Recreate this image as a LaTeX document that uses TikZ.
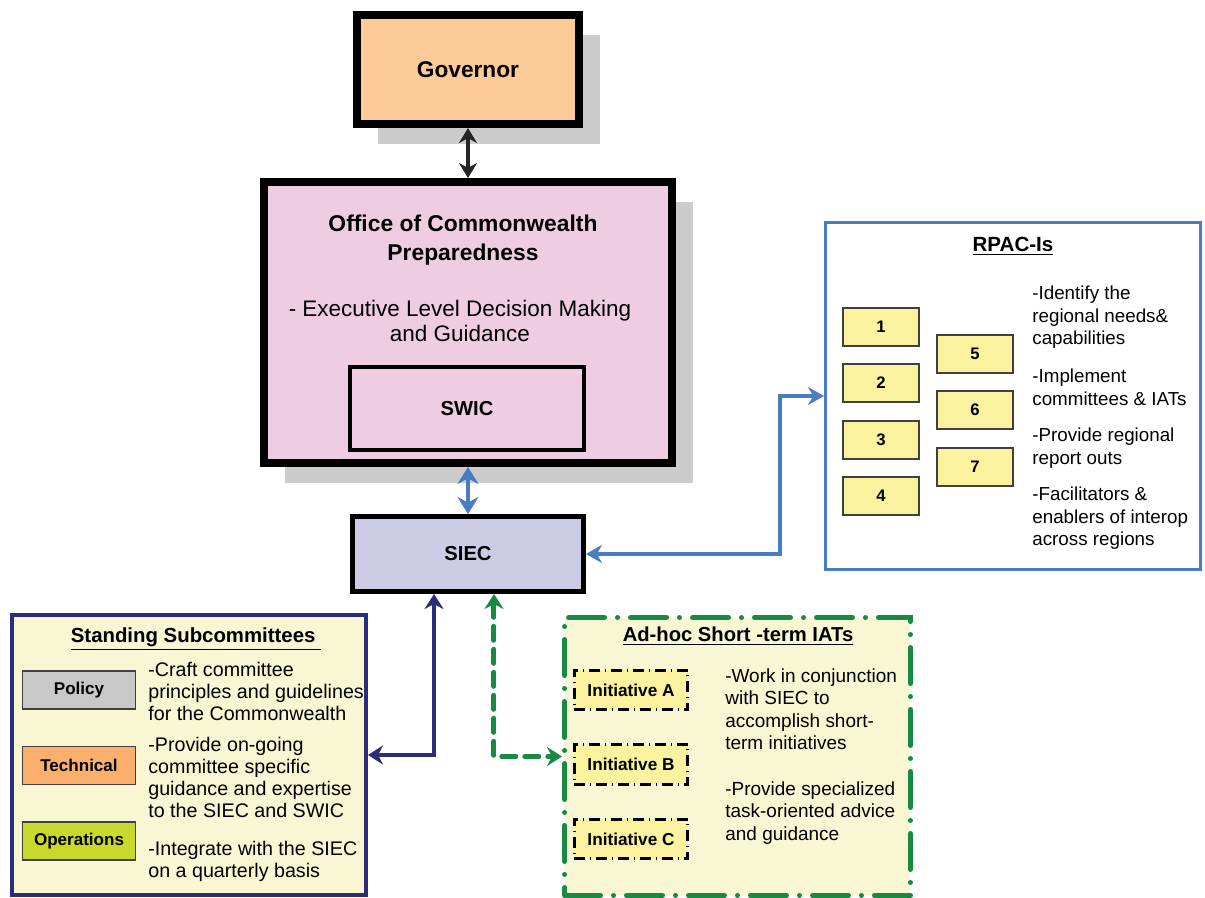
\documentclass[tikz,border=0pt]{standalone}
\usepackage{fontspec}
\setmainfont{Liberation Sans}
\usetikzlibrary{arrows.meta,shadows}

\definecolor{govfill}{HTML}{FCCB98}
\definecolor{ocpfill}{HTML}{EECDE2}
\definecolor{siecfill}{HTML}{CDCCE6}
\definecolor{shadowgray}{HTML}{CCCCCC}
\definecolor{numfill}{HTML}{FAF29E}
\definecolor{panelfill}{HTML}{F8F6D3}
\definecolor{linkblue}{HTML}{4A7CC2}
\definecolor{navy}{HTML}{2B2D7C}
\definecolor{adgreen}{HTML}{188A44}
\definecolor{policyfill}{HTML}{C8C8C8}
\definecolor{techfill}{HTML}{FAAF6D}
\definecolor{opsfill}{HTML}{C9D92B}

\begin{document}
\begin{tikzpicture}[x=0.02cm,y=-0.02cm,
  bigbox/.style={draw,rectangle,inner sep=0pt,line width=0.16cm,
    drop shadow={shadow xshift=0.42cm,shadow yshift=-0.4cm,fill=shadowgray,opacity=1}},
  numbox/.style={draw=black!75,fill=numfill,line width=0.6pt,inner sep=0pt,
    minimum width=1.52cm,minimum height=0.76cm,font=\fontsize{9.5}{11}\selectfont\bfseries},
  subbox/.style={draw=black!75,line width=0.6pt,inner sep=0pt,
    minimum width=2.26cm,minimum height=0.76cm,font=\fontsize{9.7}{11}\selectfont\bfseries},
  initbox/.style={draw=black,fill=numfill,line width=0.06cm,inner sep=0pt,
    dash pattern={on 0.22cm off 0.1cm on 0.02cm off 0.1cm},
    minimum width=2.28cm,minimum height=0.8cm,font=\fontsize{9.8}{11}\selectfont\bfseries},
  headtxt/.style={anchor=base,inner sep=0pt,font=\fontsize{11.6}{14}\selectfont\bfseries},
  bodytxt/.style={anchor=north west,inner sep=0pt,align=left,font=\fontsize{10.8}{12.8}\selectfont},
  tip/.style={-{Stealth[length=#1,width=1.2*#1]}},
]
\useasboundingbox (0,0) rectangle (1205,898);

% top of the chain
\node[bigbox,fill=govfill,minimum width=4.44cm,minimum height=2.18cm,
  font=\fontsize{12.9}{15}\selectfont\bfseries] (gov) at (468,69.5) {Governor};
\node[bigbox,fill=ocpfill,minimum width=8.16cm,minimum height=5.62cm] (ocp) at (468,322.5) {};
\node[anchor=north,inner sep=0pt,align=center,font=\fontsize{13}{16.1}\selectfont\bfseries]
  (ocptitle) at (463,215) {Office of Commonwealth\\Preparedness};
\node[anchor=north,inner sep=0pt,align=center,font=\fontsize{12.8}{14.05}\selectfont]
  (ocpbody) at (460,300) {- Executive Level Decision Making\\and Guidance};
\node[draw,fill=ocpfill,line width=0.08cm,inner sep=0pt,minimum width=4.68cm,minimum height=1.66cm,
  font=\fontsize{11.5}{14}\selectfont\bfseries] (swic) at (467,408.5) {SWIC};
\node[draw,fill=siecfill,line width=0.1cm,inner sep=0pt,minimum width=4.62cm,minimum height=1.5cm,
  font=\fontsize{11.5}{14}\selectfont\bfseries] (siec) at (468,554) {SIEC};

% RPAC-Is
\node[draw=linkblue,fill=white,line width=0.06cm,minimum width=7.5cm,minimum height=6.94cm] (rpac) at (1013,396) {};
\node[headtxt,font=\fontsize{11.7}{14}\selectfont\bfseries] (rpactitle) at (1013,252) {\underline{RPAC-Is}};
\node[numbox] (n1) at (881,327) {1};
\node[numbox] (n2) at (881,383) {2};
\node[numbox] (n3) at (881,440) {3};
\node[numbox] (n4) at (881,496) {4};
\node[numbox] (n5) at (975,354) {5};
\node[numbox] (n6) at (975,410) {6};
\node[numbox] (n7) at (975,467) {7};
\node[bodytxt,font=\fontsize{10.7}{12.8}\selectfont] (r1) at (1032,286) {-Identify the\\regional needs\&\\capabilities};
\node[bodytxt,font=\fontsize{10.7}{12.8}\selectfont] (r2) at (1032,369) {-Implement\\committees \& IATs};
\node[bodytxt,font=\fontsize{10.7}{12.8}\selectfont] (r3) at (1032,428) {-Provide regional\\report outs};
\node[bodytxt,font=\fontsize{10.7}{12.8}\selectfont] (r4) at (1032,487) {-Facilitators \&\\enablers of interop\\across regions};

% Standing Subcommittees
\node[draw=navy,fill=panelfill,line width=0.08cm,minimum width=7.08cm,minimum height=5.6cm] (stand) at (189,755) {};
\node[headtxt] (standtitle) at (196,643) {\underline{Standing Subcommittees\ }};
\node[subbox,fill=policyfill] (policy) at (79,690) {Policy};
\node[subbox,fill=techfill] (tech) at (79,765.5) {Technical};
\node[subbox,fill=opsfill] (ops) at (79,841) {Operations};
\node[bodytxt,font=\fontsize{11.2}{12.5}\selectfont] (s1) at (148,662) {-Craft committee\\principles and guidelines\\for the Commonwealth};
\node[bodytxt,font=\fontsize{11.2}{12.5}\selectfont] (s2) at (148,737) {-Provide on-going\\committee specific\\guidance and expertise\\to the SIEC and SWIC};
\node[bodytxt,font=\fontsize{11.2}{12.5}\selectfont] (s3) at (148,841) {-Integrate with the SIEC\\on a quarterly basis};

% Ad-hoc IATs
\node[draw=adgreen,fill=panelfill,line width=0.1cm,line cap=round,
  dash pattern={on 0.72cm off 0.26cm on 0cm off 0.26cm},
  minimum width=6.92cm,minimum height=5.56cm] (adhoc) at (737.5,756.5) {};
\node[headtxt,font=\fontsize{11.5}{14}\selectfont\bfseries] (adhoctitle) at (738,642) {\underline{Ad-hoc Short -term IATs}};
\node[initbox] (inA) at (631,690) {Initiative A};
\node[initbox] (inB) at (631,764.5) {Initiative B};
\node[initbox] (inC) at (631,839) {Initiative C};
\node[bodytxt] (a1) at (725,668) {-Work in conjunction\\with SIEC to\\accomplish short-\\term initiatives};
\node[bodytxt] (a2) at (725,781) {-Provide specialized\\task-oriented advice\\and guidance};

% links
\draw[black!85,line width=0.09cm,{Stealth[length=0.3cm,width=0.36cm]}-{Stealth[length=0.3cm,width=0.36cm]}] (gov.south) -- (ocp.north);
\draw[linkblue,line width=0.08cm,{Stealth[length=0.34cm,width=0.42cm]}-{Stealth[length=0.34cm,width=0.42cm]}] (ocp.south) -- (siec.north);
\draw[linkblue,line width=0.07cm,{Stealth[length=0.32cm,width=0.36cm]}-{Stealth[length=0.32cm,width=0.36cm]}] (siec.east) -- ++(194,0) |- (rpac.west);
\draw[navy,line width=0.08cm,{Stealth[length=0.3cm,width=0.38cm]}-{Stealth[length=0.3cm,width=0.38cm]}] ([xshift=-0.68cm]siec.south) |- (stand.east);
\draw[adgreen,line width=0.1cm,line cap=round,dash pattern={on 0.28cm off 0.18cm},
  {Stealth[length=0.3cm,width=0.38cm]}-{Stealth[length=0.3cm,width=0.38cm]}] ([xshift=0.52cm]siec.south) |- (adhoc.west);
\end{tikzpicture}
\end{document}
